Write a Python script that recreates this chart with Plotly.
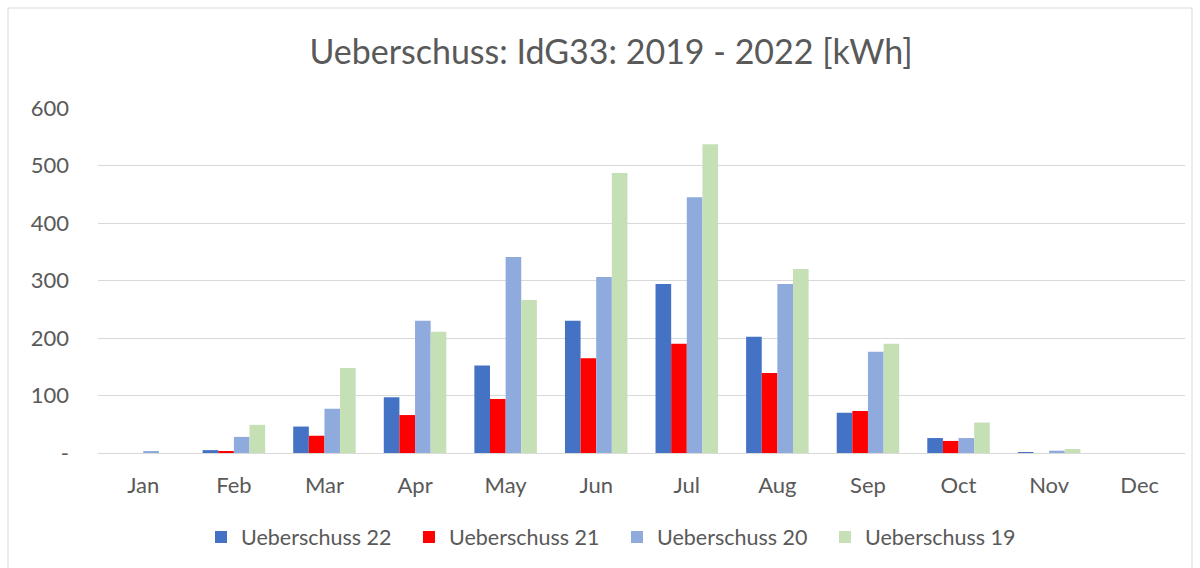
import plotly.graph_objects as go

months = ["Jan", "Feb", "Mar", "Apr", "May", "Jun", "Jul", "Aug", "Sep", "Oct", "Nov", "Dec"]
ueb22 = [0, 5, 46, 97, 152, 230, 294, 202, 70, 26, 1, 0]
ueb21 = [0, 2, 30, 66, 94, 165, 190, 139, 73, 21, 0, 0]
ueb20 = [3, 28, 77, 230, 341, 306, 445, 294, 176, 26, 4, 0]
ueb19 = [0, 49, 148, 211, 266, 487, 537, 320, 190, 53, 7, 0]

series_names = ["Ueberschuss 22", "Ueberschuss 21", "Ueberschuss 20", "Ueberschuss 19"]
colors = ["#4472C4", "#FF0000", "#8FAADC", "#C5E0B4"]
tick_vals = [0, 100, 200, 300, 400, 500, 600]
tick_text = ["-", "100", "200", "300", "400", "500", "600"]

fig = go.Figure()
for name, vals, col in zip(series_names, [ueb22, ueb21, ueb20, ueb19], colors):
    fig.add_trace(go.Bar(x=months, y=vals, name=name, marker=dict(color=col, line=dict(width=0))))

W, H = 1200, 568
l, r, t, b = 98, 15, 108, 115
fig.update_layout(
    width=W, height=H,
    margin=dict(l=l, r=r, t=t, b=b, autoexpand=False),
    paper_bgcolor="white", plot_bgcolor="white",
    font=dict(family="Lato, 'Open Sans', sans-serif", color="#595959", size=21),
    title=dict(text="Ueberschuss: IdG33: 2019 - 2022 [kWh]", x=(611 - l) / (W - l - r), xref="paper",
               xanchor="center", y=1 - 52 / H, yanchor="middle", font=dict(size=34, color="#595959")),
    barmode="group", bargap=0.31, bargroupgap=0,
    xaxis=dict(showgrid=False, showline=True, linecolor="#D9D9D9", linewidth=1,
               ticks="", tickfont=dict(size=22), ticklabelstandoff=13, fixedrange=True),
    yaxis=dict(range=[0, 600], tickvals=tick_vals, ticktext=tick_text,
               showgrid=True, gridcolor="#D9D9D9", gridwidth=1, zeroline=False,
               ticks="", tickfont=dict(size=22), ticklabelstandoff=28),
    legend=dict(orientation="h", x=(617 - l) / (W - l - r), xanchor="center",
                y=-(537 - (H - b)) / (H - t - b), yanchor="middle",
                font=dict(size=21.5), itemwidth=30, traceorder="normal",
                entrywidth=163, entrywidthmode="pixels"),
    showlegend=True,
)
# chart border
fig.add_shape(type="rect", xref="paper", yref="paper",
              x0=(8 - l) / (W - l - r), x1=(1192 - l) / (W - l - r),
              y0=-(H - b - 8 + 8) / (H - t - b), y1=1 + (t - 8) / (H - t - b),
              line=dict(color="#D9D9D9", width=1), fillcolor="rgba(0,0,0,0)", layer="below")
fig.write_html("out.html", post_script="document.body.style.margin='0';",
               config={"displayModeBar": False})
